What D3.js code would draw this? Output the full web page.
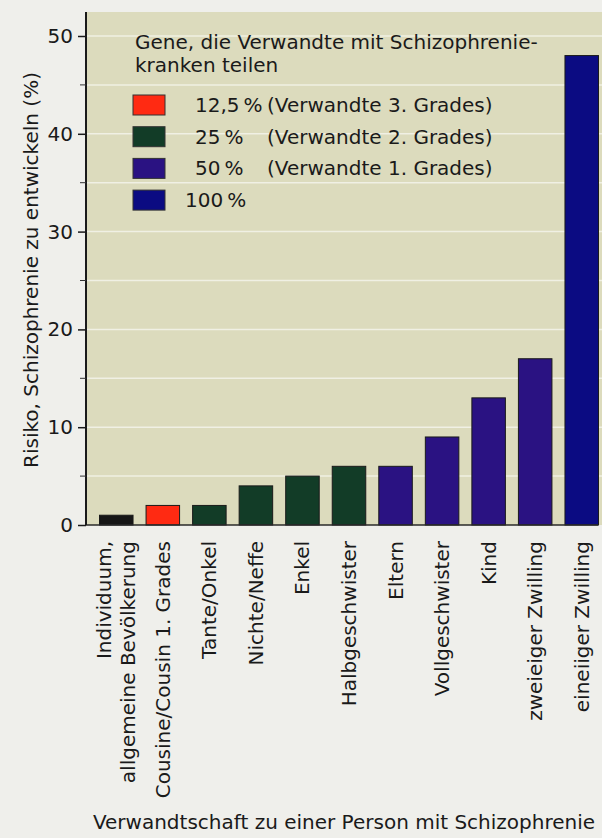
<!DOCTYPE html>
<html>
<head>
<meta charset="utf-8">
<script src="https://cdn.jsdelivr.net/npm/d3@7"></script>
<style>
  body { margin: 0; background: #efefeb; }
  svg { display: block; font-family: "DejaVu Sans", sans-serif; }
</style>
</head>
<body>
<svg id="chart" width="602" height="838"></svg>
<script>
// relatives and risk (%)
const relatives = [
    ["Individuum,", "allgemeine Bevölkerung"],
    ["Cousine/Cousin 1. Grades"],
    ["Tante/Onkel"],
    ["Nichte/Neffe"],
    ["Enkel"],
    ["Halbgeschwister"],
    ["Eltern"],
    ["Vollgeschwister"],
    ["Kind"],
    ["zweieiger Zwilling"],
    ["eineiiger Zwilling"]
];
const risk = [1, 2, 2, 4, 5, 6, 6, 9, 13, 17, 48];
const sharedGenes = ["none", "12,5", "25", "25", "25", "25", "50", "50", "50", "50", "100"];

const legendKeys = ["12,5", "25", "50", "100"];
const legendLabels = ["12,5\u2009%", "25\u2009%", "50\u2009%", "100\u2009%"];
const legendDegrees = ["(Verwandte 3. Grades)", "(Verwandte 2. Grades)", "(Verwandte 1. Grades)", ""];
const legendTitle = ["Gene, die Verwandte mit Schizophrenie-", "kranken teilen"];
const yTicks = [0, 10, 20, 30, 40, 50];
const yMinorTicks = [5, 15, 25, 35, 45];

const yTitle = "Risiko, Schizophrenie zu entwickeln (%)";
const xTitle = "Verwandtschaft zu einer Person mit Schizophrenie";

const FS = 20;
const svg = d3.select('#chart');
const plotLeft = 86, plotRight = 602, plotTop = 12, plotBottom = 525;

const color = d3.scaleOrdinal()
    .domain(["none", "12,5", "25", "50", "100"])
    .range(["#161616", "#ff2a12", "#123c27", "#2a1282", "#0b0b82"]);

const x = d3.scaleBand()
    .domain(d3.range(risk.length))
    .range([93, 605])
    .paddingInner(0.28)
    .paddingOuter(0.14);

const y = d3.scaleLinear()
    .domain([0, 50])
    .range([plotBottom, 36]);

// plot background
svg.append('rect')
    .attr('x', plotLeft)
    .attr('y', plotTop)
    .attr('width', plotRight - plotLeft)
    .attr('height', plotBottom - plotTop)
    .attr('fill', '#dcdbbd');

// faint white gridlines every 5
svg.append('g')
    .selectAll('line')
    .data(yTicks.concat(yMinorTicks).filter(d => d > 0))
    .enter()
    .append('line')
    .attr('x1', plotLeft)
    .attr('x2', plotRight)
    .attr('y1', d => y(d))
    .attr('y2', d => y(d))
    .attr('stroke', '#f6f6ee')
    .attr('stroke-width', 1.5)
    .attr('opacity', 0.8);

// bars
svg.append('g')
    .selectAll('rect')
    .data(risk)
    .enter()
    .append('rect')
    .attr('x', (d, i) => x(i))
    .attr('y', d => y(d))
    .attr('width', x.bandwidth())
    .attr('height', d => y(0) - y(d))
    .attr('fill', (d, i) => color(sharedGenes[i]))
    .attr('stroke', '#1a1a1a')
    .attr('stroke-width', 1);

// baseline
svg.append('line')
    .attr('x1', plotLeft)
    .attr('x2', 598)
    .attr('y1', y(0))
    .attr('y2', y(0))
    .attr('stroke', '#2a2a2a')
    .attr('stroke-width', 1.5);

// y axis
let yAxis = svg.append('g')
    .attr('transform', 'translate(' + plotLeft + ',0)')
    .call(d3.axisLeft(y).tickValues(yTicks).tickSize(8).tickPadding(5));
yAxis.select('.domain').attr('d', 'M0,' + plotTop + 'V' + plotBottom).attr('stroke', '#1a1a1a').attr('stroke-width', 2);
yAxis.selectAll('.tick line').attr('stroke', '#1a1a1a').attr('stroke-width', 1.5);
yAxis.selectAll('.tick text')
    .attr('font-family', '"DejaVu Sans", sans-serif')
    .attr('font-size', FS)
    .attr('fill', '#1a1a1a');

svg.append('g')
    .selectAll('line')
    .data(yMinorTicks)
    .enter()
    .append('line')
    .attr('x1', plotLeft - 6)
    .attr('x2', plotLeft)
    .attr('y1', d => y(d))
    .attr('y2', d => y(d))
    .attr('stroke', '#333')
    .attr('stroke-width', 1);

// y title
svg.append('text')
    .attr('transform', 'translate(38,' + 270 + ') rotate(-90)')
    .attr('text-anchor', 'middle')
    .attr('font-size', FS)
    .attr('fill', '#1a1a1a')
    .text(yTitle);

// x category labels, rotated
let xLabels = svg.append('g')
    .selectAll('text')
    .data(relatives)
    .enter()
    .append('text')
    .attr('transform', (d, i) => {
        let cx = x(i) + x.bandwidth() / 2;
        return 'translate(' + cx + ',' + 541 + ') rotate(-90)';
    })
    .attr('text-anchor', 'end')
    .attr('font-size', FS)
    .attr('fill', '#1a1a1a');
xLabels.each(function (d) {
    let t = d3.select(this);
    let n = d.length;
    d.forEach((line, k) => {
        t.append('tspan')
            .attr('x', 0)
            .attr('y', (k - (n - 1) / 2) * 24 + 7)
            .text(line);
    });
});

// x title
svg.append('text')
    .attr('x', 344)
    .attr('y', 829)
    .attr('text-anchor', 'middle')
    .attr('font-size', FS)
    .attr('fill', '#1a1a1a')
    .text(xTitle);

// legend
let legend = svg.append('g');
legend.selectAll('.title')
    .data(legendTitle)
    .enter()
    .append('text')
    .attr('class', 'title')
    .attr('x', 135)
    .attr('y', (d, i) => 49 + i * 23)
    .attr('font-size', FS)
    .attr('fill', '#1a1a1a')
    .text(d => d);

let rows = legend.selectAll('.row')
    .data(legendKeys)
    .enter()
    .append('g')
    .attr('class', 'row')
    .attr('transform', (d, i) => 'translate(0,' + (95 + i * 31.7) + ')');
rows.append('rect')
    .attr('x', 133)
    .attr('y', 0)
    .attr('width', 32)
    .attr('height', 20)
    .attr('fill', d => color(d))
    .attr('stroke', '#333')
    .attr('stroke-width', 1);
rows.append('text')
    .attr('x', (d, i) => i === 3 ? 185 : 195)
    .attr('y', 17)
    .attr('font-size', FS)
    .attr('fill', '#1a1a1a')
    .text((d, i) => legendLabels[i]);
rows.append('text')
    .attr('x', 267)
    .attr('y', 17)
    .attr('font-size', FS)
    .attr('fill', '#1a1a1a')
    .text((d, i) => legendDegrees[i]);
</script>
</body>
</html>
